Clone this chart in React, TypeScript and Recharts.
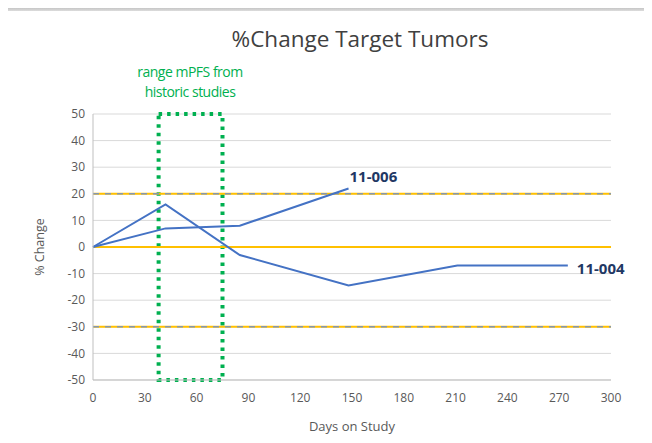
import React from "react";
import { LineChart, Line, XAxis, YAxis, CartesianGrid, ReferenceLine, ReferenceArea } from "recharts";

const xTicks = [0, 30, 60, 90, 120, 150, 180, 210, 240, 270, 300];
const yTicks = [-50, -40, -30, -20, -10, 0, 10, 20, 30, 40, 50];

const days004 = [0, 42, 85, 148, 211, 275];
const change004 = [0, 16, -3, -14.5, -7, -7];
const days006 = [0, 42, 85, 148];
const change006 = [0, 7, 8, 22];

const pfsRange = [38, 75];
const thresholds = [20, -30];

const series004 = days004.map((d, i) => ({ day: d, pct: change004[i] }));
const series006 = days006.map((d, i) => ({ day: d, pct: change006[i] }));

const FONT = "'Open Sans', 'Noto Sans', sans-serif";

const endLabel = (name: string, last: number, dx: number, dy: number) => (props: any) => {
    if (props.index !== last) return null;
    return (
        <text x={props.x + dx} y={props.y + dy} fill="#1f3864" fontSize={15} fontWeight={700} fontFamily={FONT}>
            {name}
        </text>
    );
};

const App = () => {
    return (
        <div style={{ position: "relative", width: 652, height: 443, margin: -8, background: "#fff", overflow: "hidden" }}>
            <div style={{ position: "absolute", left: 0, top: 0, width: 652, height: 11, background: "linear-gradient(#8a8a8a, #dcdcdc)" }} />
            <div style={{ position: "absolute", left: 7, top: 11, width: 643, height: 429, borderLeft: "1px solid #bfbfbf", borderBottom: "2px solid #c8c8c8" }} />
            <div style={{ position: "absolute", left: 0, top: 23, width: 720, textAlign: "center", fontFamily: FONT, fontSize: 22.5, color: "#404040" }}>
                %Change Target Tumors
            </div>
            <div style={{ position: "absolute", left: 110, top: 62, width: 160, textAlign: "center", fontFamily: FONT, fontSize: 14, lineHeight: "20px", color: "#00b050", letterSpacing: -0.5 }}>
                range mPFS from
                <br />
                historic studies
            </div>
            <div style={{ position: "absolute", left: 0, top: 0 }}>
                <LineChart width={652} height={443} margin={{ top: 114, right: 41, bottom: 12, left: 30 }}>
                    <CartesianGrid vertical={false} stroke="#d9d9d9" />
                    <XAxis
                        dataKey="day"
                        type="number"
                        domain={[0, 300]}
                        ticks={xTicks}
                        tickLine={false}
                        stroke="#bfbfbf"
                        tick={{ fill: "#595959", fontSize: 12, fontFamily: FONT, dy: 5 }}
                        height={51}
                        label={{ value: "Days on Study", position: "insideBottom", offset: 0, fill: "#595959", fontSize: 13, fontFamily: FONT }}
                    />
                    <YAxis
                        type="number"
                        domain={[-50, 50]}
                        ticks={yTicks}
                        tickLine={false}
                        stroke="#bfbfbf"
                        width={63}
                        tick={{ fill: "#595959", fontSize: 12, fontFamily: FONT }}
                        label={{ value: "% Change", angle: -90, position: "insideLeft", offset: 10, fill: "#595959", fontSize: 12.5, fontFamily: FONT, style: { textAnchor: "middle" } }}
                    />
                    <ReferenceLine y={0} stroke="#ffc000" strokeWidth={2} />
                    {thresholds.map((t) => (
                        <ReferenceLine key={"g" + t} y={t} stroke="#ffc000" strokeWidth={2} />
                    ))}
                    {thresholds.map((t) => (
                        <ReferenceLine key={"d" + t} y={t} stroke="#8497b0" strokeWidth={1.5} strokeDasharray="6 6" />
                    ))}
                    <ReferenceArea
                        x1={pfsRange[0]}
                        x2={pfsRange[1]}
                        y1={-50}
                        y2={50}
                        fill="none"
                        fillOpacity={0}
                        stroke="#00b050"
                        strokeWidth={4}
                        strokeDasharray="3.5 5"
                    />
                    <Line
                        data={series004}
                        dataKey="pct"
                        stroke="#4472c4"
                        strokeWidth={2}
                        dot={false}
                        isAnimationActive={false}
                        label={endLabel("11-004", series004.length - 1, 9, 8)}
                    />
                    <Line
                        data={series006}
                        dataKey="pct"
                        stroke="#4472c4"
                        strokeWidth={2}
                        dot={false}
                        isAnimationActive={false}
                        label={endLabel("11-006", series006.length - 1, 1, -6)}
                    />
                </LineChart>
            </div>
        </div>
    );
};

export default App;
